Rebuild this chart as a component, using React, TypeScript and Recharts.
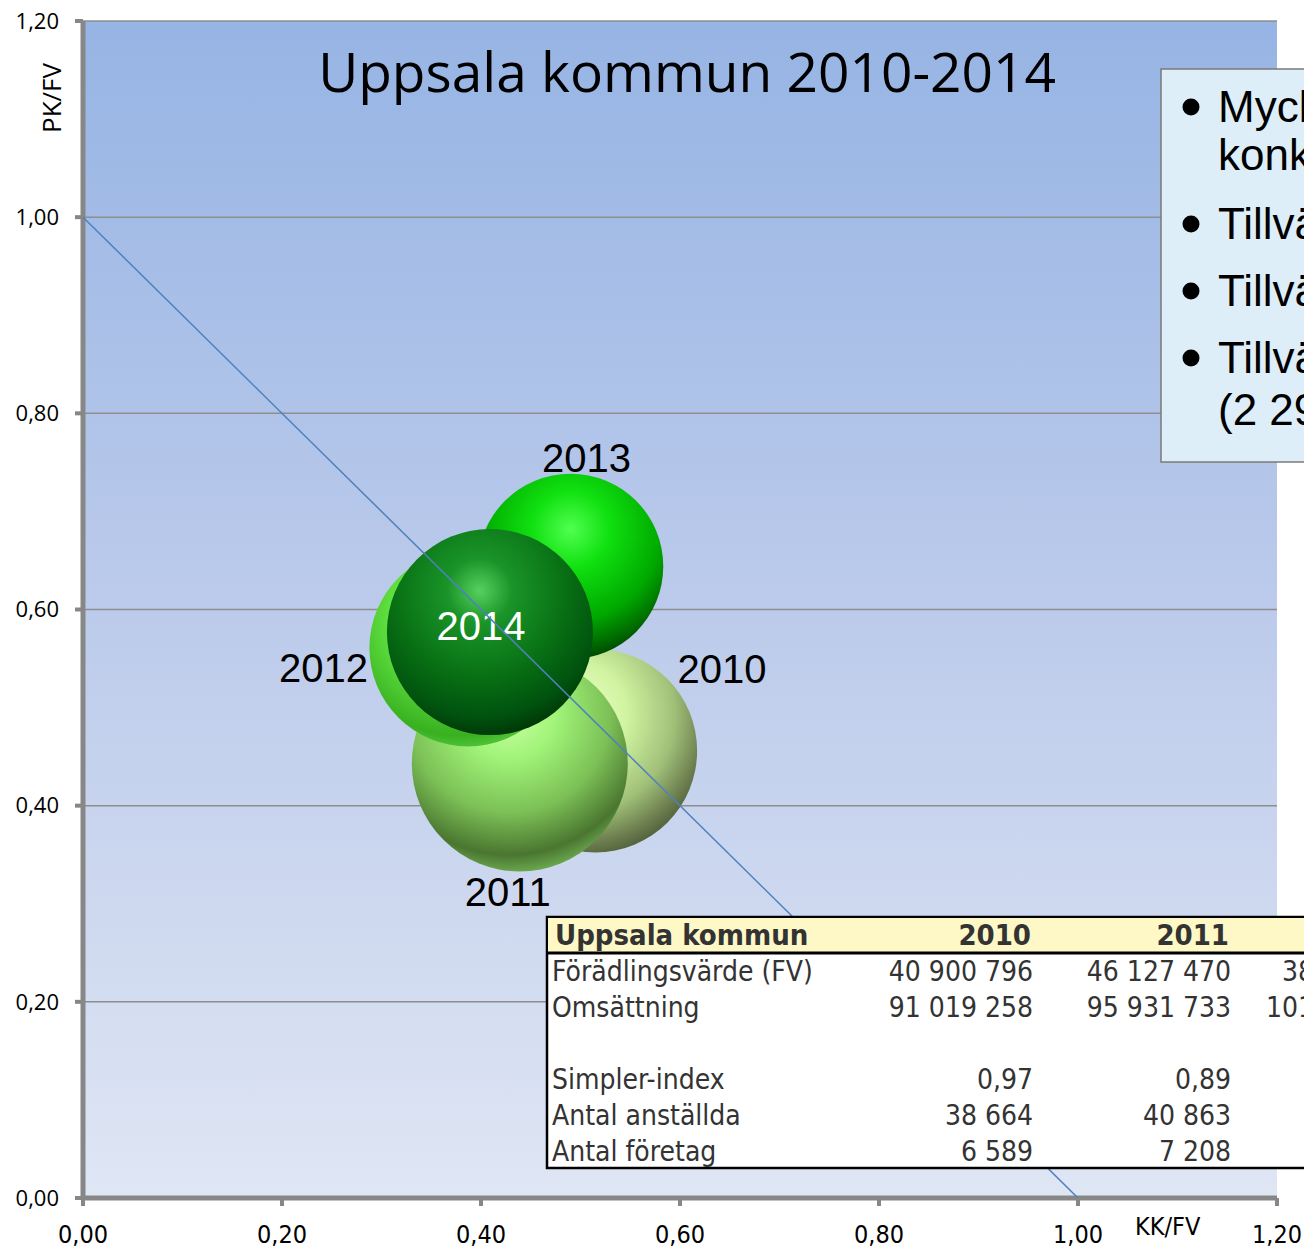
import React from 'react';
import { ScatterChart, Scatter, XAxis, YAxis, ZAxis, CartesianGrid } from 'recharts';

// bubble data
const years = ['2010', '2011', '2012', '2013', '2014'];
const kkFv = [0.515, 0.439, 0.387, 0.49, 0.409];
const pkFv = [0.456, 0.443, 0.561, 0.644, 0.577];
const fvMillions = [40.9, 46.13, 38.5, 34.0, 42.0];
const axisTicks = [0, 0.2, 0.4, 0.6, 0.8, 1.0, 1.2];
const breakEvenLine = [{ x: 0, y: 1 }, { x: 1, y: 0 }];

// table + text box
const tableTitle = 'Uppsala kommun';
const tableYears = ['2010', '2011'];
const tableRows = ['Förädlingsvärde (FV)', 'Omsättning', '', 'Simpler-index', 'Antal anställda', 'Antal företag'];
const values2010 = ['40 900 796', '91 019 258', '', '0,97', '38 664', '6 589'];
const values2011 = ['46 127 470', '95 931 733', '', '0,89', '40 863', '7 208'];
const values2012Visible = ['38', '101', '', '', '', ''];
const bullets = [['Mycket', 'konkurrens'], ['Tillväxt'], ['Tillväxt'], ['Tillväxt', '(2 29']];

const bubbleData = years.map((year, i) => ({ year, x: kkFv[i], y: pkFv[i], z: fvMillions[i] }));

const labelPlace: Record<string, { dx: number; dy: number; anchor: string; color: string }> = {
  '2010': { dx: 82, dy: -68, anchor: 'start', color: '#000' },
  '2011': { dx: -12, dy: 143, anchor: 'middle', color: '#000' },
  '2012': { dx: -100, dy: 34, anchor: 'end', color: '#000' },
  '2013': { dx: 16, dy: -94, anchor: 'middle', color: '#000' },
  '2014': { dx: -9, dy: 8, anchor: 'middle', color: '#fff' },
};

const fmt = (v: number) => v.toFixed(2).replace('.', ',');
const narrowFont = "'DejaVu Sans Condensed', sans-serif";
const tableFont = "'DejaVu Sans Condensed', 'DejaVu Sans', sans-serif";

const XTick = (props: any) => {
  const { x, y, payload } = props;
  return (
    <text x={x} y={y + 35} textAnchor="middle" fontSize={25} fontFamily={narrowFont} fill="#000">
      {fmt(payload.value)}
    </text>
  );
};

const Bubble = (props: any) => {
  const { cx, cy, width, size, payload } = props;
  const r = width ? width / 2 : Math.sqrt((size || 0) / Math.PI);
  const lab = labelPlace[payload.year];
  return (
    <g>
      <circle cx={cx} cy={cy} r={r} fill={`url(#sphere${payload.year})`} />
      <text
        x={cx + lab.dx}
        y={cy + lab.dy}
        textAnchor={lab.anchor as any}
        fontSize={40}
        fontFamily="'Liberation Sans', Arial, sans-serif"
        fill={lab.color}
      >
        {payload.year}
      </text>
    </g>
  );
};

const Gradients = () => (
  <svg width={0} height={0} style={{ position: 'absolute' }}>
    <defs>
      <linearGradient id="plotBg" x1="0" y1="0" x2="0" y2="1">
        <stop offset="0%" stopColor="#96b4e4" />
        <stop offset="50%" stopColor="#bccbeb" />
        <stop offset="100%" stopColor="#dfe6f4" />
      </linearGradient>
      <radialGradient id="sphere2010" cx="40%" cy="32%" r="72%">
        <stop offset="0%" stopColor="#f0ffd0" />
        <stop offset="35%" stopColor="#d0f4a0" />
        <stop offset="68%" stopColor="#a0c078" />
        <stop offset="88%" stopColor="#6e8050" />
        <stop offset="100%" stopColor="#4e5e3a" />
      </radialGradient>
      <radialGradient id="sphere2011" cx="45%" cy="26%" r="78%">
        <stop offset="0%" stopColor="#d0ffa8" />
        <stop offset="28%" stopColor="#a0f478" />
        <stop offset="60%" stopColor="#7cc056" />
        <stop offset="85%" stopColor="#4a7630" />
        <stop offset="100%" stopColor="#78bc5c" />
      </radialGradient>
      <radialGradient id="sphere2012" cx="45%" cy="35%" r="70%">
        <stop offset="0%" stopColor="#a0ff80" />
        <stop offset="50%" stopColor="#60e040" />
        <stop offset="85%" stopColor="#38b020" />
        <stop offset="100%" stopColor="#60d048" />
      </radialGradient>
      <radialGradient id="sphere2013" cx="50%" cy="30%" r="70%">
        <stop offset="0%" stopColor="#50ff50" />
        <stop offset="30%" stopColor="#10e010" />
        <stop offset="70%" stopColor="#00a800" />
        <stop offset="90%" stopColor="#006a00" />
        <stop offset="100%" stopColor="#004800" />
      </radialGradient>
      <radialGradient id="sphere2014" cx="45%" cy="30%" r="72%">
        <stop offset="0%" stopColor="#58d060" />
        <stop offset="22%" stopColor="#1a9428" />
        <stop offset="58%" stopColor="#087014" />
        <stop offset="85%" stopColor="#00520e" />
        <stop offset="100%" stopColor="#003406" />
      </radialGradient>
    </defs>
  </svg>
);

// small absolutely placed svg that keeps page coordinates inside
const Layer = ({ x, y, w, h, children }: { x: number; y: number; w: number; h: number; children: React.ReactNode }) => (
  <svg
    width={w}
    height={h}
    viewBox={`${x} ${y} ${w} ${h}`}
    style={{ position: 'absolute', left: x, top: y, pointerEvents: 'none' }}
  >
    {children}
  </svg>
);

const Overlays = () => {
  const lineBaselines = [[122, 170], [239], [306], [373, 425]];
  return (
    <>
      <Layer x={290} y={30} w={800} h={90}>
        <text x={687} y={92} textAnchor="middle" fontSize={55} fontFamily="'Open Sans', sans-serif" fill="#000">
          Uppsala kommun 2010-2014
        </text>
      </Layer>
      <Layer x={30} y={50} w={40} h={100}>
        <text transform="translate(61,98) rotate(-90)" textAnchor="middle" fontSize={26} fontFamily="'Open Sans', sans-serif" fill="#000">
          PK/FV
        </text>
      </Layer>
      <Layer x={1125} y={1205} w={100} h={40}>
        <text x={1135} y={1235} fontSize={25} fontFamily={narrowFont} fill="#000">
          KK/FV
        </text>
      </Layer>

      {/* text box */}
      <Layer x={1155} y={62} w={149} h={408}>
        <rect x={1161} y={69} width={300} height={393} fill="#ddeef9" stroke="#7a7a7a" strokeWidth={1.5} />
        {bullets.map((lines, i) => (
          <g key={i}>
            <circle cx={1191} cy={lineBaselines[i][0] - 15} r={8.5} fill="#000" />
            {lines.map((t, j) => (
              <text key={j} x={1218} y={lineBaselines[i][j]} fontSize={44} fontFamily="'Liberation Sans', Arial, sans-serif" fill="#000">
                {t}
              </text>
            ))}
          </g>
        ))}
      </Layer>

      {/* table */}
      <Layer x={540} y={910} w={764} h={265}>
        <rect x={547} y={917} width={900} height={251} fill="#fff" stroke="#000" strokeWidth={2.5} />
        <rect x={548} y={918} width={898} height={35} fill="#fdf8c6" />
        <line x1={547} x2={1304} y1={953} y2={953} stroke="#000" strokeWidth={3} />
        <text x={555} y={945} fontSize={29} fontWeight="bold" fontFamily={tableFont} fill="#333">
          {tableTitle}
        </text>
        {tableYears.map((y, i) => (
          <text key={y} x={1031 + i * 198} y={945} textAnchor="end" fontSize={29} fontWeight="bold" fontFamily={tableFont} fill="#333">
            {y}
          </text>
        ))}
        {tableRows.map((row, i) => {
          const base = 981 + i * 36;
          return (
            <g key={i} fontSize={28} fontFamily={tableFont} fill="#333">
              <text x={552} y={base}>{row}</text>
              <text x={1033} y={base} textAnchor="end">{values2010[i]}</text>
              <text x={1231} y={base} textAnchor="end">{values2011[i]}</text>
              <text x={i === 0 ? 1282 : 1266} y={base}>{values2012Visible[i]}</text>
            </g>
          );
        })}
      </Layer>
    </>
  );
};

export default function App() {
  return (
    <div style={{ position: 'absolute', left: 0, top: 0, width: 1304, height: 1247, background: '#fff' }}>
      <Gradients />
      <ScatterChart width={1304} height={1247} margin={{ top: 21, right: 27, bottom: 0, left: 0 }}>
        <CartesianGrid vertical={false} stroke="#8e8e8e" strokeWidth={1.5} fill="url(#plotBg)" fillOpacity={1} />
        <XAxis
          type="number"
          dataKey="x"
          domain={[0, 1.2]}
          ticks={axisTicks}
          tickFormatter={fmt}
          height={49}
          axisLine={{ stroke: '#878787', strokeWidth: 5 }}
          tickLine={{ stroke: '#878787', strokeWidth: 4 }}
          tickSize={8}
          tick={XTick}
          allowDataOverflow
        />
        <YAxis
          type="number"
          dataKey="y"
          domain={[0, 1.2]}
          ticks={axisTicks}
          tickFormatter={fmt}
          width={83}
          axisLine={{ stroke: '#878787', strokeWidth: 5 }}
          tickLine={{ stroke: '#878787', strokeWidth: 4 }}
          tickSize={8}
          tickMargin={16}
          tick={{ fill: '#000', fontSize: 22, fontFamily: "'Open Sans', sans-serif" }}
          allowDataOverflow
        />
        <ZAxis type="number" dataKey="z" domain={[0, 50]} range={[0, 39716]} />
        <Scatter data={bubbleData} shape={Bubble} isAnimationActive={false} />
        <Scatter
          data={breakEvenLine}
          line={{ stroke: '#4f81bd', strokeWidth: 1.5 }}
          shape={() => <g />}
          isAnimationActive={false}
        />
      </ScatterChart>
      <Overlays />
    </div>
  );
}
